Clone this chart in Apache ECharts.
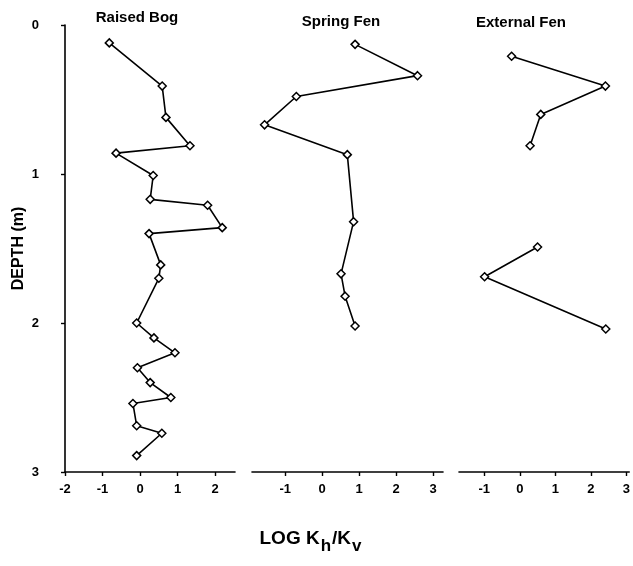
<!DOCTYPE html>
<html><head><meta charset="utf-8">
<script src="https://cdn.jsdelivr.net/npm/echarts@6/dist/echarts.min.js"></script>
<style>html,body{margin:0;padding:0;background:#fff}#c{width:633px;height:566px}</style>
</head><body><div id="c"></div>
<script>
const panelTitles = ['Raised Bog', 'Spring Fen', 'External Fen'];
const yTitle = 'DEPTH (m)';
const depthTicks = [0, 1, 2, 3];
const bogTicks = [-2, -1, 0, 1, 2];
const fenTicks = [-1, 0, 1, 2, 3];

const bogLogK  = [-0.82, 0.59, 0.69, 1.33, -0.64, 0.35, 0.27, 1.80, 2.19, 0.24, 0.55, 0.50, -0.09, 0.37, 0.93, -0.07, 0.27, 0.82, -0.19, -0.09, 0.58, -0.09];
const bogDepth = [0.12, 0.41, 0.62, 0.81, 0.86, 1.01, 1.17, 1.21, 1.36, 1.40, 1.61, 1.70, 2.00, 2.10, 2.20, 2.30, 2.40, 2.50, 2.54, 2.69, 2.74, 2.89];

const springLogK  = [0.89, 2.58, -0.70, -1.56, 0.68, 0.85, 0.51, 0.62, 0.89];
const springDepth = [0.13, 0.34, 0.48, 0.67, 0.87, 1.32, 1.67, 1.82, 2.02];

const extUpperLogK  = [-0.23, 2.41, 0.59, 0.29];
const extUpperDepth = [0.21, 0.41, 0.60, 0.81];
const extLowerLogK  = [0.50, -0.99, 2.42];
const extLowerDepth = [1.49, 1.69, 2.04];

const pair = (xs, ys) => xs.map((x, i) => [x, ys[i]]);
const FONT = 'Liberation Sans, Arial, sans-serif';
const lab = { color: '#000', fontFamily: FONT, fontWeight: 'bold', fontSize: 13 };

const grids = [
  { left: 65, top: 25, width: 170, height: 447 },
  { left: 252, top: 25, width: 191, height: 447 },
  { left: 459, top: 25, width: 174, height: 447 }
];
const xRanges = [[-2, 2.53], [-1.9, 3.27], [-1.71, 3.08]];
const xTickSets = [bogTicks, fenTicks, fenTicks];

const xAxis = xRanges.map((r, i) => ({
  type: 'value', gridIndex: i, min: r[0], max: r[1],
  axisLine: { show: true, onZero: false, lineStyle: { color: '#000', width: 1.6 } },
  axisTick: { show: true, length: 4, lineStyle: { color: '#000', width: 1.4 }, customValues: xTickSets[i] },
  axisLabel: Object.assign({ margin: 11, customValues: xTickSets[i] }, lab),
  splitLine: { show: false }
}));
const yAxis = [0, 1, 2].map(i => ({
  type: 'value', gridIndex: i, min: 0, max: 3, interval: 1, inverse: true,
  show: i === 0,
  name: i === 0 ? yTitle : '',
  nameLocation: 'middle', nameRotate: 90, nameGap: 38,
  nameTextStyle: { color: '#000', fontFamily: FONT, fontWeight: 'bold', fontSize: 16 },
  axisLine: { show: true, onZero: false, lineStyle: { color: '#000', width: 1.6 } },
  axisTick: { show: true, length: 4, lineStyle: { color: '#000', width: 1.4 } },
  axisLabel: Object.assign({ margin: 26 }, lab),
  splitLine: { show: false }
}));

const mk = (data, i) => ({
  type: 'line', xAxisIndex: i, yAxisIndex: i, data: data,
  symbol: 'diamond', symbolSize: 8, showSymbol: true,
  lineStyle: { color: '#000', width: 1.6 },
  itemStyle: { color: '#fff', borderColor: '#000', borderWidth: 1.5 },
  silent: true
});

const chart = echarts.init(document.getElementById('c'), null, { renderer: 'canvas' });
chart.setOption({
  animation: false,
  backgroundColor: '#fff',
  grid: grids,
  xAxis: xAxis,
  yAxis: yAxis,
  series: [
    mk(pair(bogLogK, bogDepth), 0),
    mk(pair(springLogK, springDepth), 1),
    mk(pair(extUpperLogK, extUpperDepth), 2),
    mk(pair(extLowerLogK, extLowerDepth), 2)
  ],
  graphic: [
    { type: 'text', x: 137, y: 18, style: { text: panelTitles[0], align: 'center', verticalAlign: 'middle', font: 'bold 15px ' + FONT, fill: '#000' } },
    { type: 'text', x: 341, y: 22, style: { text: panelTitles[1], align: 'center', verticalAlign: 'middle', font: 'bold 15px ' + FONT, fill: '#000' } },
    { type: 'text', x: 521, y: 23, style: { text: panelTitles[2], align: 'center', verticalAlign: 'middle', font: 'bold 15px ' + FONT, fill: '#000' } },
    { type: 'text', x: 311, y: 529, style: {
        text: '{n|LOG K}{s|h}{n|/K}{s|v}', align: 'center', verticalAlign: 'top',
        rich: {
          n: { fontFamily: FONT, fontSize: 19, fontWeight: 'bold', fill: '#000', color: '#000', verticalAlign: 'top', lineHeight: 20 },
          s: { fontFamily: FONT, fontSize: 17, fontWeight: 'bold', fill: '#000', color: '#000', verticalAlign: 'top', lineHeight: 20, padding: [9, 1, 0, 1] }
        }
    } }
  ]
});
</script></body></html>
